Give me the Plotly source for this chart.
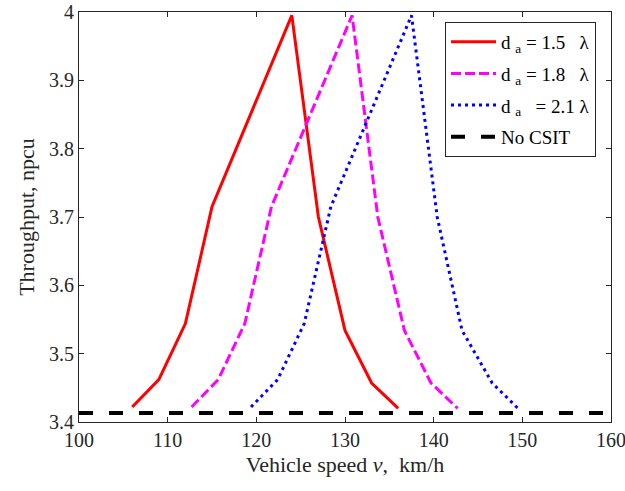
import plotly.graph_objects as go

# Data
throughput = [3.422, 3.462, 3.544, 3.715, 3.995, 3.700, 3.534, 3.457, 3.420]
speed_15 = [106.0, 109.0, 112.0, 115.0, 124.0, 127.0, 130.0, 133.0, 136.0]
speed_18 = [112.7, 115.7, 118.7, 121.7, 130.8, 133.7, 136.7, 139.7, 142.7]
speed_21 = [119.4, 122.4, 125.4, 128.4, 137.5, 140.4, 143.2, 146.6, 149.5]
no_csit_x = [100, 160]
no_csit_y = [3.413, 3.413]

x_ticks = [100, 110, 120, 130, 140, 150, 160]
y_ticks = [3.4, 3.5, 3.6, 3.7, 3.8, 3.9, 4.0]
y_ticktext = ["3.4", "3.5", "3.6", "3.7", "3.8", "3.9", "4"]

FONT = "Liberation Serif"
AX = "#262626"

fig = go.Figure()
fig.add_trace(go.Scatter(x=speed_15, y=throughput, mode="lines", legendgroup="a",
                         name="d&nbsp;<sub>a</sub> = 1.5 &nbsp;&nbsp;λ",
                         line=dict(color="#ff0000", width=3, dash="solid")))
fig.add_trace(go.Scatter(x=speed_18, y=throughput, mode="lines", legendgroup="b",
                         name="d&nbsp;<sub>a</sub> = 1.8 &nbsp;&nbsp;λ",
                         line=dict(color="#ff00ff", width=3, dash="10px,4px")))
fig.add_trace(go.Scatter(x=speed_21, y=throughput, mode="lines", legendgroup="c",
                         name="d&nbsp;<sub>a</sub> &nbsp;&nbsp;= 2.1 λ",
                         line=dict(color="#0000ff", width=3, dash="3px,4px")))
fig.add_trace(go.Scatter(x=no_csit_x, y=no_csit_y, mode="lines", legendgroup="d",
                         name="No CSIT",
                         line=dict(color="#000000", width=4, dash="14px,16px")))

axis_common = dict(
    showline=True, linecolor=AX, linewidth=1, mirror="ticks",
    ticks="inside", ticklen=5, tickcolor=AX, tickwidth=1,
    showgrid=False, zeroline=False, ticklabeloverflow="allow",
    tickfont=dict(family=FONT, size=20, color="#262626"),
)

fig.update_layout(
    width=625, height=491,
    margin=dict(l=79, r=14, t=12, b=69, autoexpand=False),
    paper_bgcolor="white", plot_bgcolor="white",
    font=dict(family=FONT, color="#262626"),
    xaxis=dict(range=[100, 160], tickvals=x_ticks,
               title=dict(text="Vehicle speed <i>v</i>, &nbsp;km/h",
                          font=dict(family=FONT, size=22, color="#262626"),
                          standoff=6),
               **axis_common),
    yaxis=dict(range=[3.4, 4.0], tickvals=y_ticks, ticktext=y_ticktext,
               title=dict(text="Throughput, npcu",
                          font=dict(family=FONT, size=22, color="#262626"),
                          standoff=8),
               **axis_common),
    legend=dict(x=0.688, y=0.976, xanchor="left", yanchor="top",
                bgcolor="white", bordercolor=AX, borderwidth=1,
                font=dict(family=FONT, size=19, color="#000000"),
                itemwidth=45, tracegroupgap=4),
    showlegend=True,
)

fig.write_html("out.html",
               config={"displayModeBar": False},
               post_script="document.body.style.margin='0';document.body.style.overflow='hidden';")
